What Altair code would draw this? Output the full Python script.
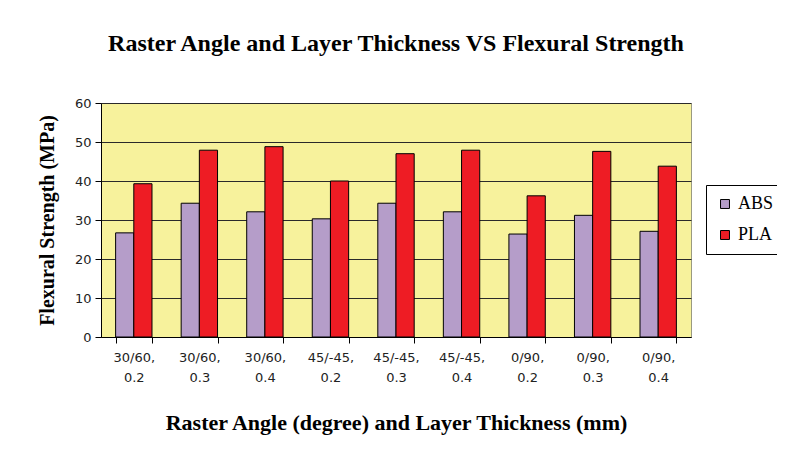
import altair as alt
import pandas as pd

categories = ["30/60,|0.2", "30/60,|0.3", "30/60,|0.4",
              "45/-45,|0.2", "45/-45,|0.3", "45/-45,|0.4",
              "0/90,|0.2", "0/90,|0.3", "0/90,|0.4"]
abs_values = [26.7, 34.3, 32.1, 30.3, 34.3, 32.1, 26.4, 31.2, 27.1]
pla_values = [39.3, 47.9, 48.8, 40.0, 47.0, 47.9, 36.2, 47.6, 43.8]
series = ["ABS", "PLA"]
colors = ["#B59DC9", "#EE1C24"]

rows = []
for c, a, p in zip(categories, abs_values, pla_values):
    rows.append({"cat": c, "series": "ABS", "value": a})
    rows.append({"cat": c, "series": "PLA", "value": p})
df = pd.DataFrame(rows)

serif = "Liberation Serif"
sans = "DejaVu Sans"

chart = alt.Chart(df).mark_bar(stroke="#000000", strokeWidth=1).encode(
    x=alt.X("cat:N", sort=categories,
            scale=alt.Scale(paddingInner=0.445, paddingOuter=0.223),
            axis=alt.Axis(title="Raster Angle (degree) and Layer Thickness (mm)",
                          labelAngle=0,
                          labelExpr="split(datum.label, '|')",
                          labelFont=sans, labelFontSize=13, labelColor="#222222",
                          labelLineHeight=20, labelPadding=8,
                          tickBand="extent", tickSize=6, tickColor="#000000",
                          domainColor="#000000",
                          titleFont=serif, titleFontSize=22, titleFontWeight="bold",
                          titleColor="#000000", titlePadding=28)),
    xOffset=alt.XOffset("series:N", sort=series,
                        scale=alt.Scale(paddingInner=0, paddingOuter=0)),
    y=alt.Y("value:Q",
            scale=alt.Scale(domain=[0, 60]),
            axis=alt.Axis(title="Flexural Strength (MPa)", values=[0, 10, 20, 30, 40, 50, 60],
                          labelFont=sans, labelFontSize=13, labelColor="#222222",
                          labelPadding=4,
                          tickSize=6, tickColor="#000000", domainColor="#000000",
                          gridColor="#2a2a2a", gridWidth=1, grid=True,
                          titleFont=serif, titleFontSize=20, titleFontWeight="bold",
                          titleColor="#000000", titlePadding=17)),
    color=alt.Color("series:N", sort=series,
                    scale=alt.Scale(domain=series, range=colors),
                    legend=alt.Legend(title=None, orient="none",
                                      legendX=605, legendY=82,
                                      symbolType="square", symbolSize=80,
                                      symbolStrokeColor="#000000", symbolStrokeWidth=1,
                                      labelFont=serif, labelFontSize=18,
                                      labelColor="#000000",
                                      rowPadding=13, padding=10,
                                      strokeColor="#000000", fillColor="#FFFFFF")),
).properties(
    width=590, height=234,
    title=alt.TitleParams("Raster Angle and Layer Thickness VS Flexural Strength",
                          font=serif, fontSize=24, fontWeight="bold", color="#000000",
                          anchor="middle", offset=41),
    autosize=alt.AutoSizeParams(type="none"),
    padding={"left": 93, "top": 95, "right": 86, "bottom": 120},
    background="#FFFFFF",
).configure_view(
    fill="#F7F29C", stroke="#9a9a80", strokeWidth=1
)

chart.save("out.html", embed_options={"renderer": "svg", "actions": False})
